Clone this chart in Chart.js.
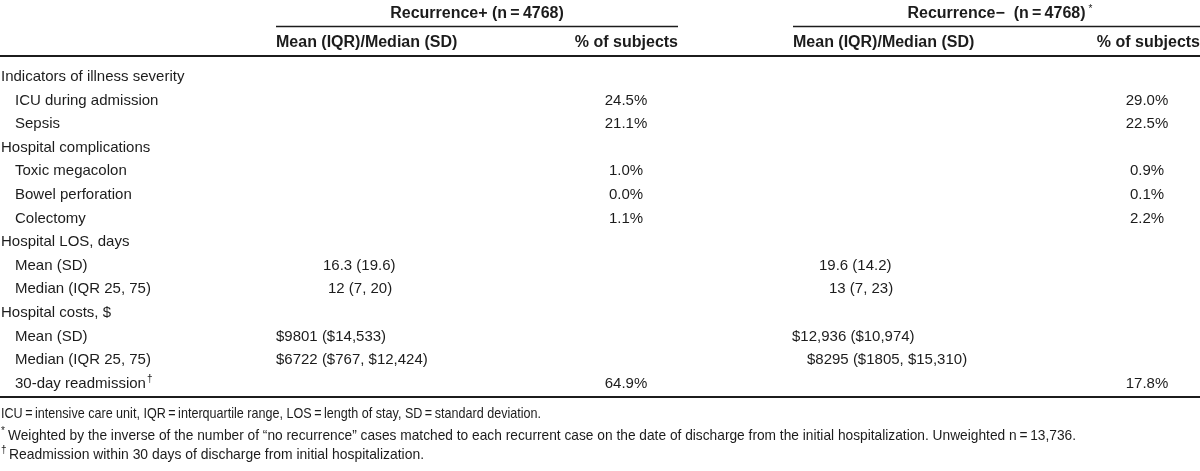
<!DOCTYPE html>
<html>
<head>
<meta charset="utf-8">
<script src="https://cdn.jsdelivr.net/npm/chart.js@4/dist/chart.umd.min.js"></script>
<style>
  html, body { margin: 0; padding: 0; background: #fff; }
  #tableChart { display: block; }
</style>
</head>
<body>
<canvas id="tableChart" width="1200" height="471"></canvas>
<script>
// Table data
const rowLabels = [
    'Indicators of illness severity', 'ICU during admission', 'Sepsis',
    'Hospital complications', 'Toxic megacolon', 'Bowel perforation', 'Colectomy',
    'Hospital LOS, days', 'Mean (SD)', 'Median (IQR 25, 75)',
    'Hospital costs, $', 'Mean (SD)', 'Median (IQR 25, 75)', '30-day readmission'
];
const rowIndent = [0, 1, 1, 0, 1, 1, 1, 0, 1, 1, 0, 1, 1, 1];
const recPlusStat = ['', '', '', '', '', '', '', '', '16.3 (19.6)', '12 (7, 20)', '', '$9801 ($14,533)', '$6722 ($767, $12,424)', ''];
const recPlusPct = [null, 24.5, 21.1, null, 1.0, 0.0, 1.1, null, null, null, null, null, null, 64.9];
const recMinusStat = ['', '', '', '', '', '', '', '', '19.6 (14.2)', '13 (7, 23)', '', '$12,936 ($10,974)', '$8295 ($1805, $15,310)', ''];
const recMinusPct = [null, 29.0, 22.5, null, 0.9, 0.1, 2.2, null, null, null, null, null, null, 17.8];
const groupTitles = ['Recurrence+ (n\u2009=\u20094768)', 'Recurrence\u2212  (n\u2009=\u20094768)'];
const columnTitles = ['Mean (IQR)/Median (SD)', '% of subjects'];
const footnotes = [
    'ICU\u2009=\u2009intensive care unit, IQR\u2009=\u2009interquartile range, LOS\u2009=\u2009length of stay, SD\u2009=\u2009standard deviation.',
    'Weighted by the inverse of the number of \u201cno recurrence\u201d cases matched to each recurrent case on the date of discharge from the initial hospitalization. Unweighted n\u2009=\u200913,736.',
    'Readmission within 30 days of discharge from initial hospitalization.'
];

// layout (in scale units)
const FONT = "'Liberation Sans', Arial, sans-serif";
const BODY = '15px ' + FONT;
const BOLD = 'bold 16px ' + FONT;
const NOTE = '15px ' + FONT;
const INK = '#1c1c1c';
const groupSpan = [[276, 678], [793, 1200]];
const pctCenter = [626, 1147];
const statLeft = { 8: [323, 819], 9: [328, 829], 11: [276, 792], 12: [276, 807] };
const headRows = { title: -2.67, groupRule: -2.12, cols: -1.44, headRule: -0.85, bottomRule: 13.6 };
const footRows = [14.28, 15.21, 16.02];
const footSpan = [[1, 541], [8, 1076], [9, 424]];

const tablePlugin = {
    id: 'tableText',
    afterDraw(chart) {
        const c = chart.ctx;
        const xs = chart.scales.x, ys = chart.scales.y;
        const X = v => xs.getPixelForValue(v);
        const Y = v => ys.getPixelForValue(v);
        c.save();
        c.fillStyle = INK;
        c.strokeStyle = INK;
        c.textBaseline = 'alphabetic';

        const text = (s, x, y, align, font, sx) => {
            c.font = font || BODY;
            c.textAlign = align || 'left';
            c.save();
            c.translate(x, y + 5);
            c.scale(sx || 1, 1);
            c.fillText(s, 0, 0);
            c.restore();
        };
        const rule = (x0, x1, y, w) => {
            c.lineWidth = w;
            c.beginPath();
            c.moveTo(X(x0), Math.round(Y(y)) + (w % 2 ? 0.5 : 0));
            c.lineTo(X(x1), Math.round(Y(y)) + (w % 2 ? 0.5 : 0));
            c.stroke();
        };
        const sup = (s, x, y) => {
            c.font = '10px ' + FONT;
            c.textAlign = 'left';
            c.fillText(s, x, y - 1);
        };

        // header
        groupSpan.forEach((span, g) => {
            const mid = X((span[0] + span[1]) / 2);
            text(groupTitles[g], mid, Y(headRows.title), 'center', BOLD);
            if (g === 1) {
                c.font = BOLD;
                const w = c.measureText(groupTitles[g]).width;
                sup('*', mid + w / 2 + 3, Y(headRows.title));
            }
            rule(span[0], span[1], headRows.groupRule, 1.5);
            text(columnTitles[0], X(span[0]), Y(headRows.cols), 'left', BOLD);
            text(columnTitles[1], X(span[1]), Y(headRows.cols), 'right', BOLD);
        });
        rule(0, 1200, headRows.headRule, 2);

        // body
        rowLabels.forEach((lab, i) => {
            const y = Y(i);
            const lx = X(rowIndent[i] ? 15 : 1);
            text(lab, lx, y);
            if (i === 13) {
                c.font = BODY;
                sup('\u2020', lx + c.measureText(lab).width + 1, y);
            }
            [[recPlusStat, recPlusPct], [recMinusStat, recMinusPct]].forEach((cols, g) => {
                if (cols[0][i]) text(cols[0][i], X(statLeft[i][g]), y);
                if (cols[1][i] !== null) text(cols[1][i].toFixed(1) + '%', X(pctCenter[g]), y, 'center');
            });
        });
        rule(0, 1200, headRows.bottomRule, 2);

        // footnotes, squeezed to the width they take in the source
        footnotes.forEach((s, k) => {
            c.font = NOTE;
            const x0 = X(footSpan[k][0]), x1 = X(footSpan[k][1]);
            const sx = (x1 - x0) / c.measureText(s).width;
            text(s, x0, Y(footRows[k]), 'left', NOTE, sx);
        });
        sup('*', X(1), Y(footRows[1]));
        sup('\u2020', X(1), Y(footRows[2]));
        c.restore();
    }
};

const tableChart = new Chart(document.getElementById('tableChart'), {
    type: 'scatter',
    data: { datasets: [] },
    options: {
        responsive: false,
        animation: false,
        devicePixelRatio: 1,
        layout: { padding: 0 },
        plugins: { legend: { display: false }, tooltip: { enabled: false } },
        scales: {
            x: { type: 'linear', min: 0, max: 1200, display: false },
            y: { type: 'linear', reverse: true, min: -3.2203, max: 16.737, display: false }
        }
    },
    plugins: [tablePlugin]
});
</script>
</body>
</html>
